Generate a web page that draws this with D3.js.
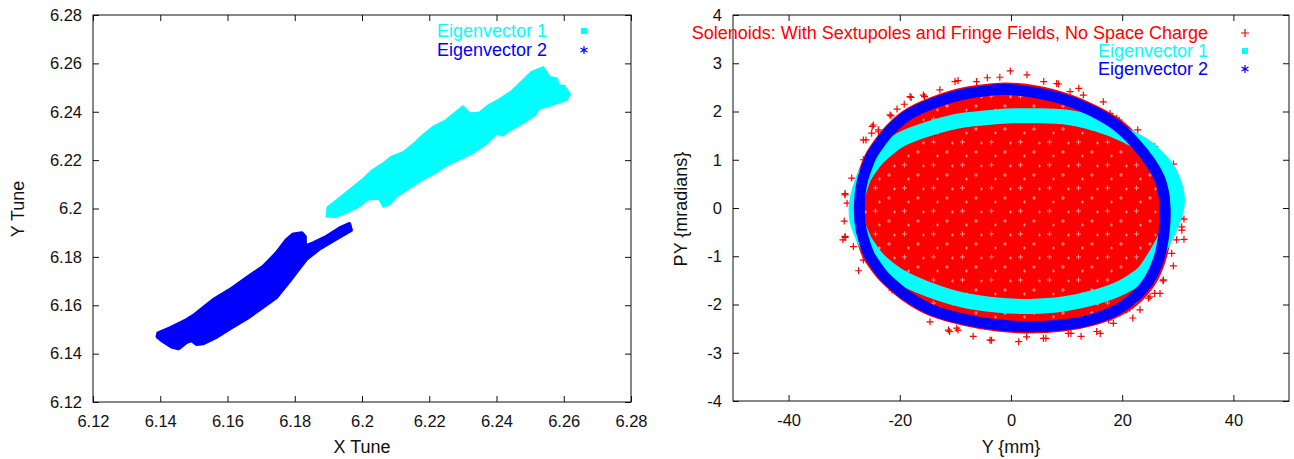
<!DOCTYPE html>
<html>
<head>
<meta charset="utf-8">
<script src="https://cdn.jsdelivr.net/npm/d3@7"></script>
<style>
  body { margin: 0; background: #fff; }
  svg { display: block; font-family: "Liberation Sans", Arial, sans-serif; }
</style>
</head>
<body>
<svg id="grafico" width="1294" height="459"></svg>
<script>
// ---- ticks ----
var tuneTicks = [6.12, 6.14, 6.16, 6.18, 6.2, 6.22, 6.24, 6.26, 6.28];
var yMmTicks = [-40, -20, 0, 20, 40];
var pyTicks = [-4, -3, -2, -1, 0, 1, 2, 3, 4];

// ---- left panel: tune footprints (outline of each cloud, [x tune, y tune]) ----
var eigen1Tune = [
    [6.1898, 6.1971], [6.1900, 6.2003], [6.1925, 6.2030], [6.1963, 6.2072], [6.2000, 6.2113],
    [6.2031, 6.2154], [6.2063, 6.2182], [6.2088, 6.2210], [6.2125, 6.2230], [6.2156, 6.2265],
    [6.2181, 6.2299], [6.2213, 6.2334], [6.2250, 6.2361], [6.2275, 6.2389], [6.2300, 6.2417],
    [6.2319, 6.2389], [6.2350, 6.2393], [6.2375, 6.2421], [6.2413, 6.2451], [6.2444, 6.2479],
    [6.2475, 6.2520], [6.2506, 6.2561], [6.2538, 6.2579], [6.2556, 6.2541], [6.2578, 6.2534],
    [6.2581, 6.2506], [6.2600, 6.2503], [6.2615, 6.2472], [6.2606, 6.2451], [6.2550, 6.2426],
    [6.2525, 6.2417], [6.2513, 6.2389], [6.2475, 6.2354], [6.2438, 6.2327], [6.2419, 6.2306],
    [6.2400, 6.2313], [6.2363, 6.2265], [6.2325, 6.2230], [6.2288, 6.2206], [6.2250, 6.2182],
    [6.2213, 6.2148], [6.2175, 6.2120], [6.2138, 6.2086], [6.2100, 6.2051], [6.2081, 6.2021],
    [6.2065, 6.2012], [6.2052, 6.2045], [6.2015, 6.2040], [6.1988, 6.2010], [6.1950, 6.1985],
    [6.1919, 6.1968]
];
var eigen2Tune = [
    [6.1394, 6.1484], [6.1429, 6.1505], [6.1479, 6.1539], [6.1503, 6.1560], [6.1528, 6.1588],
    [6.1558, 6.1622], [6.1607, 6.1663], [6.1657, 6.1712], [6.1706, 6.1759], [6.1746, 6.1815],
    [6.1776, 6.1870], [6.1796, 6.1893], [6.1821, 6.1898], [6.1830, 6.1883], [6.1830, 6.1842],
    [6.1855, 6.1856], [6.1895, 6.1883], [6.1934, 6.1918], [6.1962, 6.1936], [6.1967, 6.1911],
    [6.1925, 6.1877], [6.1875, 6.1836], [6.1836, 6.1794], [6.1816, 6.1759], [6.1786, 6.1704],
    [6.1746, 6.1635], [6.1706, 6.1594], [6.1657, 6.1546], [6.1607, 6.1505], [6.1568, 6.1470],
    [6.1528, 6.1443], [6.1508, 6.1440], [6.1494, 6.1456], [6.1479, 6.1449], [6.1454, 6.1422],
    [6.1434, 6.1429], [6.1404, 6.1456], [6.1392, 6.1470]
];

// ---- right panel: phase space [Y mm, PY mradians] ----
// dense core of the particle cloud (edge)
var solenoidCore = [
    [-1.37, 2.58], [4.62, 2.52], [10.61, 2.34], [15.41, 2.10], [19.61, 1.82], [23.20, 1.44],
    [26.20, 1.00], [28.00, 0.58], [28.90, 0.03], [28.72, -0.53], [27.70, -1.08], [25.90, -1.56],
    [23.20, -1.94], [19.61, -2.22], [14.81, -2.42], [9.42, -2.54], [3.42, -2.58], [-2.58, -2.54],
    [-8.57, -2.42], [-14.57, -2.22], [-19.36, -1.91], [-23.56, -1.49], [-26.56, -1.01],
    [-28.05, -0.46], [-28.35, 0.03], [-27.75, 0.58], [-25.96, 1.13], [-22.96, 1.62],
    [-19.36, 2.00], [-14.57, 2.27], [-8.57, 2.48]
];
// particles outside the core
var solenoidStray = [
    [-0.13, 2.84], [2.88, 2.76], [-9.53, 2.64], [-4.26, 2.70], [-2.01, 2.71], [5.89, 2.62],
    [8.53, 2.57], [-17.96, 2.29], [-15.55, 2.31], [-21.57, 1.91], [-24.96, 1.69], [-23.83, 1.58],
    [-26.09, 1.41], [18.31, 1.86], [19.44, 1.82], [25.84, 1.27], [29.22, 0.91], [-29.85, 0.30],
    [-29.48, 0.10], [-30.00, -0.27], [-29.85, -0.61], [-30.23, -0.66], [31.11, -0.23],
    [30.73, -0.46], [31.11, -0.65], [27.35, -1.51], [25.84, -1.77], [24.71, -1.87],
    [-17.81, -1.94], [-14.80, -2.15], [-11.04, -2.56], [-9.53, -2.53], [-3.51, -2.74],
    [1.38, -2.77], [6.27, -2.70], [10.79, -2.60], [16.05, -2.60], [17.56, -2.32], [21.32, -2.08],
    [-24.76, 1.72], [-23.86, 1.62], [-21.76, 1.93], [-18.16, 2.31], [-15.76, 2.34],
    [-10.07, 2.62], [8.22, 2.58], [10.61, 2.41], [13.01, 2.34], [17.81, 1.96], [19.01, 1.86],
    [24.40, 1.34], [27.40, 1.06], [30.40, -0.21], [30.70, -0.39], [29.80, -0.66], [28.90, -0.94],
    [27.40, -1.49], [26.80, -1.77], [25.00, -1.84], [23.20, -2.11], [20.81, -2.11],
    [18.41, -2.39], [15.41, -2.56], [10.31, -2.60], [5.82, -2.70], [2.82, -2.67],
    [-3.77, -2.74], [-9.77, -2.49], [-11.27, -2.53], [-14.57, -2.36], [-18.16, -1.94],
    [-23.56, -1.35], [-26.56, -1.08], [-28.35, -0.80], [-29.85, -0.59], [-29.85, 0.27],
    [-28.65, 0.62], [-26.56, 1.00], [-26.56, 1.41], [-25.06, 1.55],
    [-20.50, 2.05], [-19.20, 2.15], [-12.80, 2.45], [-6.20, 2.62], [12.20, 2.48], [16.60, 2.20],
    [22.80, 1.62], [29.90, 0.55], [29.20, -1.20], [21.90, -2.28], [12.60, -2.66], [-6.80, -2.66],
    [-21.40, -1.70], [-27.40, -1.30]
];
// centre line of each eigenvector ring
var eigen1Ring = [
    [0.42, 1.91], [9.42, 1.89], [15.41, 1.74], [20.40, 1.52], [24.60, 1.24], [28.10, 0.82],
    [29.70, 0.38], [29.80, 0.00], [28.30, -0.48], [26.20, -0.94], [23.80, -1.35], [20.21, -1.63],
    [15.41, -1.84], [9.42, -1.99], [3.42, -2.04], [-2.58, -2.01], [-8.57, -1.91], [-14.57, -1.70],
    [-19.96, -1.42], [-23.80, -1.08], [-26.40, -0.66], [-27.70, -0.25], [-27.70, 0.17],
    [-26.40, 0.65], [-23.80, 1.06], [-19.96, 1.41], [-14.57, 1.65], [-8.57, 1.82]
];
var eigen2Ring = [
    [-1.38, 2.46], [4.32, 2.39], [10.13, 2.23], [14.81, 2.00], [18.89, 1.72], [22.30, 1.35],
    [25.18, 0.93], [26.98, 0.53], [27.70, 0.03], [27.52, -0.51], [26.62, -1.04], [24.88, -1.49],
    [22.30, -1.84], [19.01, -2.11], [14.51, -2.31], [9.42, -2.42], [3.42, -2.46], [-2.58, -2.42],
    [-8.39, -2.31], [-14.27, -2.11], [-18.76, -1.82], [-22.78, -1.42], [-25.54, -0.96],
    [-26.97, -0.44], [-27.27, 0.03], [-26.74, 0.56], [-25.06, 1.09], [-22.18, 1.55],
    [-18.76, 1.91], [-14.27, 2.16], [-8.39, 2.36]
];

var leftLegend = ["Eigenvector 1", "Eigenvector 2"];
var rightLegend = ["Solenoids: With Sextupoles and Fringe Fields, No Space Charge", "Eigenvector 1", "Eigenvector 2"];

var VERMELHO = "#ff0000", CIANO = "#00ffff", AZUL = "#0000ff", TINTA = "#111";

var svg = d3.select("#grafico");

// textura leve dos "+" sobrepostos na nuvem vermelha
var padrao = svg.append("defs").append("pattern")
    .attr("id", "texturaVermelha")
    .attr("patternUnits", "userSpaceOnUse")
    .attr("width", 29).attr("height", 23);
padrao.append("rect").attr("width", 29).attr("height", 23).attr("fill", VERMELHO);
padrao.append("path")
    .attr("d", "M3,4h5M5.5,1.5v5M17,14h4M19,12v4M23,5h3M24.5,3.5v3M8,18h3M9.5,16.5v3")
    .attr("stroke", "#ff8c8c").attr("stroke-width", 1.1);

var xL = d3.scaleLinear().domain([6.12, 6.28]).range([93, 631]);
var yL = d3.scaleLinear().domain([6.12, 6.28]).range([402, 15]);
var xR = d3.scaleLinear().domain([-50, 50]).range([733, 1289]);
var yR = d3.scaleLinear().domain([-4, 4]).range([401, 15]);

function fmtTick(v) {
    return String(+v.toFixed(2));
}

function moldura(x, y, xTicks, yTicks) {
    var g = svg.append("g");
    var x0 = x.range()[0], x1 = x.range()[1];
    var y0 = y.range()[0], y1 = y.range()[1];

    g.append("g").attr("transform", "translate(0," + y0 + ")")
        .call(d3.axisBottom(x).tickValues(xTicks).tickFormat(fmtTick)
            .tickSizeInner(-6).tickSizeOuter(0).tickPadding(13));
    g.append("g").attr("transform", "translate(0," + y1 + ")")
        .call(d3.axisTop(x).tickValues(xTicks).tickFormat("")
            .tickSizeInner(-6).tickSizeOuter(0));
    g.append("g").attr("transform", "translate(" + x0 + ",0)")
        .call(d3.axisLeft(y).tickValues(yTicks).tickFormat(fmtTick)
            .tickSizeInner(-6).tickSizeOuter(0).tickPadding(11));
    g.append("g").attr("transform", "translate(" + x1 + ",0)")
        .call(d3.axisRight(y).tickValues(yTicks).tickFormat("")
            .tickSizeInner(-6).tickSizeOuter(0));

    g.selectAll(".domain").remove();
    g.selectAll(".tick line").attr("stroke", TINTA);
    g.selectAll(".tick text")
        .attr("font-family", "Liberation Sans, Arial, sans-serif")
        .attr("font-size", 16.5)
        .attr("fill", TINTA);

    g.append("rect")
        .attr("x", x0).attr("y", y1)
        .attr("width", x1 - x0).attr("height", y0 - y1)
        .attr("fill", "none")
        .attr("stroke", TINTA);
}

function titulo(texto, x, y, girar) {
    var t = svg.append("text")
        .attr("x", x).attr("y", y)
        .attr("text-anchor", "middle")
        .attr("dominant-baseline", "central")
        .attr("font-size", 18)
        .attr("fill", TINTA)
        .text(texto);
    if (girar) t.attr("transform", "rotate(-90," + x + "," + y + ")");
}

// marcadores
function mais(g, x, y, r, cor) {
    g.append("path")
        .attr("d", "M" + (x - r) + "," + y + "H" + (x + r) + "M" + x + "," + (y - r) + "V" + (y + r))
        .attr("stroke", cor).attr("stroke-width", 1.2).attr("fill", "none");
}
function quadrado(g, x, y, r, cor) {
    g.append("rect").attr("x", x - r).attr("y", y - r)
        .attr("width", 2 * r).attr("height", 2 * r).attr("fill", cor);
}
function estrela(g, x, y, r, cor) {
    var d = "M" + x + "," + (y - r) + "V" + (y + r);
    d += "M" + (x - r * 0.87) + "," + (y - r / 2) + "L" + (x + r * 0.87) + "," + (y + r / 2);
    d += "M" + (x - r * 0.87) + "," + (y + r / 2) + "L" + (x + r * 0.87) + "," + (y - r / 2);
    g.append("path").attr("d", d).attr("stroke", cor).attr("stroke-width", 1.2).attr("fill", "none");
}

function legenda(itens, cores, tipos, xTexto, xMarca, yInicial, passo) {
    var g = svg.append("g");
    itens.forEach(function(rotulo, i) {
        var y = yInicial + passo * i;
        g.append("text")
            .attr("x", xTexto).attr("y", y)
            .attr("text-anchor", "end")
            .attr("dominant-baseline", "central")
            .attr("font-size", 18)
            .attr("fill", cores[i])
            .text(rotulo);
        tipos[i](g, xMarca, y, tipos[i] === quadrado ? 3 : 4, cores[i]);
    });
}

// ---- painel esquerdo ----
var linhaL = d3.line().x(function(d) { return xL(d[0]); }).y(function(d) { return yL(d[1]); });
var dadosL = svg.append("g");
dadosL.append("path").attr("d", linhaL(eigen1Tune) + "Z")
    .attr("fill", CIANO).attr("stroke", CIANO).attr("stroke-width", 4);
dadosL.append("path").attr("d", linhaL(eigen2Tune) + "Z")
    .attr("fill", AZUL).attr("stroke", AZUL).attr("stroke-width", 4).attr("stroke-linejoin", "round");

moldura(xL, yL, tuneTicks, tuneTicks);
titulo("X Tune", 362, 447, false);
titulo("Y Tune", 18, 209, true);
legenda(leftLegend, [CIANO, AZUL], [quadrado, estrela], 547, 584, 31, 19);

// ---- painel direito ----
var anel = d3.line().curve(d3.curveCardinalClosed.tension(0.3))
    .x(function(d) { return xR(d[0]); }).y(function(d) { return yR(d[1]); });
var dadosR = svg.append("g");
dadosR.append("path").attr("d", anel(solenoidCore))
    .attr("fill", "url(#texturaVermelha)").attr("stroke", VERMELHO).attr("stroke-width", 2);
solenoidStray.forEach(function(p) {
    mais(dadosR, xR(p[0]), yR(p[1]), 3.5, VERMELHO);
});
dadosR.append("path").attr("d", anel(eigen1Ring))
    .attr("fill", "none").attr("stroke", CIANO).attr("stroke-width", 15);
dadosR.append("path").attr("d", anel(eigen2Ring))
    .attr("fill", "none").attr("stroke", AZUL).attr("stroke-width", 11);

moldura(xR, yR, yMmTicks, pyTicks);
titulo("Y {mm}", 1011, 447, false);
titulo("PY {mradians}", 681, 209, true);
legenda(rightLegend, [VERMELHO, CIANO, AZUL], [mais, quadrado, estrela], 1208, 1245, 33, 18);
</script>
</body>
</html>
